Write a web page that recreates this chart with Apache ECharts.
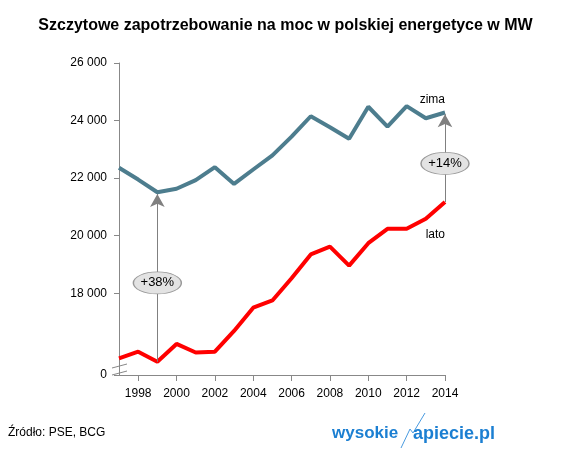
<!DOCTYPE html>
<html>
<head>
<meta charset="utf-8">
<script src="https://cdn.jsdelivr.net/npm/echarts@6/dist/echarts.min.js"></script>
<style>
  html, body { margin: 0; padding: 0; background: #fff; }
  #main { width: 571px; height: 452px; }
</style>
</head>
<body>
<div id="main"></div>
<script>
// lata na osi X
const years = ['1997','1998','1999','2000','2001','2002','2003','2004','2005','2006',
               '2007','2008','2009','2010','2011','2012','2013','2014'];
// zapotrzebowanie szczytowe zimą (MW)
const zima = [22360, 21950, 21510, 21630, 21930, 22380, 21800, 22300, 22790, 23440,
              24150, 23770, 23370, 24480, 23790, 24500, 24080, 24280];
// zapotrzebowanie szczytowe latem (MW)
const lato = [15740, 15970, 15620, 16240, 15940, 15970, 16690, 17500, 17750, 18520,
              19350, 19620, 18960, 19740, 20240, 20240, 20590, 21170];
// podpisy osi Y (oś przerwana, dół osi opisany jako 0)
const yTicks = [18000, 20000, 22000, 24000, 26000];
const yBreakMin = 15160;
const yMax = 26000;
// strzałki z różnicą lato -> zima
const arrows = [
  { year: '1999', text: '+38%', labelAt: 18360 },
  { year: '2014', text: '+14%', labelAt: 22510 }
];

const fmt = v => v <= yBreakMin ? '0' : String(v).replace(/\B(?=(\d{3})+(?!\d))/g, ' ');
const idx = y => years.indexOf(y);

let myChart = echarts.init(document.getElementById('main'));
myChart.setOption({
  backgroundColor: '#ffffff',
  animation: false,
  textStyle: { fontFamily: 'Liberation Sans, Arial, sans-serif' },
  title: {
    text: 'Szczytowe zapotrzebowanie na moc w polskiej energetyce w MW',
    left: 'center',
    top: 13,
    textStyle: { fontSize: 16, fontWeight: 'bold', color: '#000' }
  },
  grid: { left: 119, right: 126, top: 63, bottom: 77 },
  xAxis: {
    type: 'category',
    data: years,
    boundaryGap: false,
    axisLine: { lineStyle: { color: '#888' } },
    axisTick: { length: 6, lineStyle: { color: '#888' }, interval: i => i % 2 === 1 },
    axisLabel: { color: '#000', fontSize: 12, margin: 13, interval: i => i % 2 === 1 }
  },
  yAxis: {
    type: 'value',
    min: yBreakMin,
    max: yMax,
    splitLine: { show: false },
    axisLine: { show: true, lineStyle: { color: '#888' } },
    axisTick: { show: true, length: 5, lineStyle: { color: '#888' },
                customValues: [yBreakMin].concat(yTicks) },
    axisLabel: { color: '#000', fontSize: 12, margin: 12,
                 customValues: [yBreakMin].concat(yTicks), formatter: fmt }
  },
  series: [
    {
      name: 'zima',
      type: 'line',
      data: zima,
      symbol: 'none',
      z: 3,
      lineStyle: { color: '#4d7d8e', width: 4 },
      markPoint: {
        symbol: 'circle', symbolSize: 1, silent: true,
        itemStyle: { color: 'rgba(0,0,0,0)' },
        label: { show: true, position: 'inside', align: 'right', color: '#000', fontSize: 12, formatter: 'zima' },
        data: [{ coord: ['2014', 24710] }]
      }
    },
    {
      name: 'lato',
      type: 'line',
      data: lato,
      symbol: 'none',
      z: 3,
      lineStyle: { color: '#ff0000', width: 4 },
      markPoint: {
        symbol: 'circle', symbolSize: 1, silent: true,
        itemStyle: { color: 'rgba(0,0,0,0)' },
        label: { show: true, position: 'inside', align: 'right', color: '#000', fontSize: 12, formatter: 'lato' },
        data: [{ coord: ['2014', 20035] }]
      }
    },
    {
      // strzałki i elipsy z opisem
      name: 'roznica',
      type: 'line',
      data: [],
      z: 2,
      markLine: {
        silent: true,
        symbol: ['none', 'arrow'],
        symbolSize: [11, 13],
        label: { show: false },
        lineStyle: { color: '#808080', width: 1, type: 'solid' },
        data: arrows.map(a => [
          { coord: [a.year, lato[idx(a.year)]] },
          { coord: [a.year, zima[idx(a.year)] - 60] }
        ])
      },
      markPoint: {
        silent: true,
        symbol: 'circle',
        symbolSize: [48, 22],
        itemStyle: { color: '#e3e3e3', borderColor: '#999', borderWidth: 1 },
        label: { show: true, position: 'inside', color: '#000', fontSize: 13, formatter: p => p.name },
        data: arrows.map(a => ({ name: a.text, coord: [a.year, a.labelAt] }))
      }
    }
  ]
});

// znak przerwania osi + stopka
const o = myChart.convertToPixel({ xAxisIndex: 0, yAxisIndex: 0 }, ['1997', yBreakMin]);
myChart.setOption({
  graphic: [
    { type: 'line', shape: { x1: o[0] - 7, y1: o[1] - 7, x2: o[0] + 8, y2: o[1] - 11 },
      style: { stroke: '#888', lineWidth: 1 } },
    { type: 'line', shape: { x1: o[0] - 7, y1: o[1], x2: o[0] + 8, y2: o[1] - 4 },
      style: { stroke: '#888', lineWidth: 1 } },
    { type: 'text', left: 8, top: 427,
      style: { text: 'Źródło: PSE, BCG', fill: '#000', font: '12px Liberation Sans, Arial, sans-serif' } },
    { type: 'text', left: 332, top: 425,
      style: { text: 'wysokie', fill: '#1b7fd2', font: 'bold 17px Liberation Sans, Arial, sans-serif' } },
    { type: 'polyline', shape: { points: [[401, 448], [410, 429], [413, 433], [425, 413]] },
      style: { stroke: '#4a9be0', lineWidth: 1, fill: null } },
    { type: 'text', left: 413, top: 425,
      style: { text: 'apiecie.pl', fill: '#1b7fd2', font: 'bold 18px Liberation Sans, Arial, sans-serif' } }
  ]
});
</script>
</body>
</html>
